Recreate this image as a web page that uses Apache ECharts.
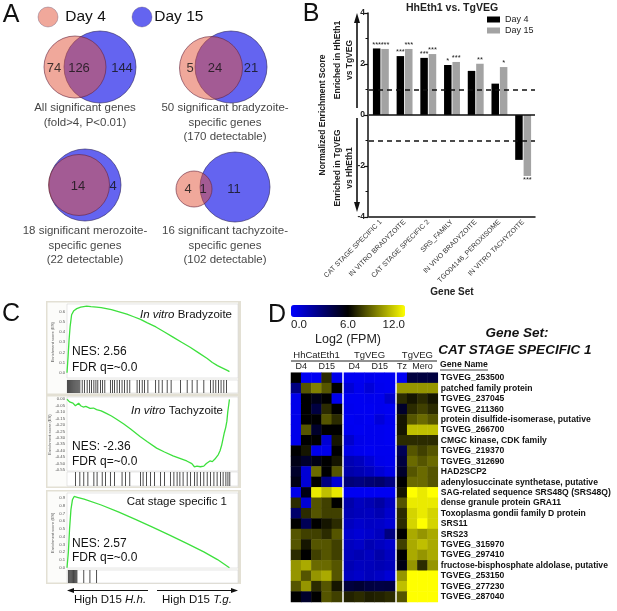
<!DOCTYPE html>
<html>
<head>
<meta charset="utf-8">
<script src="https://cdn.jsdelivr.net/npm/echarts@6.0.0/dist/echarts.min.js"></script>
<style>
html, body { margin: 0; padding: 0; background: #fff; }
#chart { width: 617px; height: 611px; }
</style>
</head>
<body>
<div id="chart"></div>
<script>
const FONT = "'Liberation Sans', Arial, sans-serif";

// ---- Panel A: Venn diagrams (centre x, centre y, radius, in panel pixels) ----
const vennDay15 = [[100, 67, 36], [231, 67, 36], [85, 185, 36], [235, 187, 35]];
const vennDay4 = [[75, 67, 31], [211, 68, 31.5], [79, 185, 30.5], [194, 189, 18]];
const vennCounts = [[54, 68, '74'], [79, 68, '126'], [122, 68, '144'], [190, 68, '5'], [215, 68, '24'], [251, 68, '21'],
  [78, 186, '14'], [113, 186, '4'], [188, 189, '4'], [203, 189, '1'], [234, 189, '11']];
const vennCaptions = [[85, 101, 'All significant genes\n(fold>4, P<0.01)'],
  [225, 101, '50 significant bradyzoite-\nspecific genes\n(170 detectable)'],
  [85, 224, '18 significant merozoite-\nspecific genes\n(22 detectable)'],
  [225, 224, '16 significant tachyzoite-\nspecific genes\n(102 detectable)']];
const vennLegend = [[48, 17, 'Day 4'], [142, 17, 'Day 15']];

// ---- Panel B: NES bars ----
const geneSets = ['CAT STAGE SPECIFIC 1', 'IN VITRO BRADYZOITE', 'CAT STAGE SPECIFIC 2', 'SRS_FAMILY',
  'IN VIVO BRADYZOITE', 'TGO04146_PEROXISOME', 'IN VITRO TACHYZOITE'];
const nesDay4 = [2.61, 2.31, 2.24, 1.96, 1.73, 1.23, -1.76];
const nesDay15 = [2.59, 2.59, 2.39, 2.08, 2.01, 1.88, -2.39];
const starsDay4 = ['***', '***', '***', '*', '', '', ''];
const starsDay15 = ['***', '***', '***', '***', '**', '*', '***'];
const nesCutoffs = [1, -1];

// ---- Panel C: GSEA running enrichment scores (rank %, ES) and hits ----
const esBradyzoite = [[0, 0], [0.6, 0.15], [1.2, 0.32], [1.8, 0.45], [2.7, 0.57], [4, 0.61], [5.7, 0.63], [8, 0.645],
  [11.5, 0.655], [14, 0.65], [17.3, 0.645], [20, 0.64], [23, 0.63], [26, 0.62], [29, 0.605], [32, 0.59], [35, 0.575],
  [39, 0.55], [43, 0.525], [47, 0.49], [52, 0.45], [57, 0.40], [62, 0.35], [67, 0.30], [72, 0.25], [77, 0.195],
  [82, 0.14], [85, 0.10], [88, 0.07], [91, 0.045], [94, 0.02], [95, 0.01]];
const hitsBradyzoite = [0, 0.6, 1.2, 1.8, 2.4, 3.0, 3.6, 4.2, 4.8, 5.4, 6.0, 6.6, 7.2, 8.6, 9.9, 11.5, 12.9, 14.0,
  15.4, 16.6, 17.7, 19.3, 20.5, 21.8, 25.1, 26.3, 27.5, 29.0, 30.4, 31.9, 33.3, 34.9, 36.4, 40.7, 42.1, 43.7, 45.0,
  47.0, 51.5, 53.4, 55.4, 58.3, 60.6, 66.1, 70.0, 72.9, 75.8, 79.7, 83.6, 85.2, 86.7, 88.3, 89.8, 91.4, 93.0];
const esTachyzoite = [[0, 0], [1.5, -0.02], [2.5, -0.01], [3.5, -0.03], [4.9, -0.05], [5.8, -0.035], [6.8, -0.03],
  [8, -0.05], [9.5, -0.06], [11, -0.055], [13.5, -0.07], [15.5, -0.068], [17.3, -0.08], [20, -0.09], [23, -0.11],
  [26, -0.13], [29, -0.155], [33, -0.19], [37, -0.23], [42.7, -0.29], [47, -0.33], [52.4, -0.38], [57, -0.41],
  [62, -0.44], [66, -0.46], [70, -0.48], [73, -0.50], [74.5, -0.525], [76, -0.52], [78, -0.525], [80, -0.52],
  [81.5, -0.50], [83.6, -0.48], [85, -0.485], [86.5, -0.465], [87.5, -0.46], [88.5, -0.43], [89.5, -0.40],
  [90.4, -0.36], [91.2, -0.31], [92, -0.26], [92.8, -0.22], [93.5, -0.17], [94, -0.10], [94.5, -0.05], [95, 0]];
const hitsTachyzoite = [4.7, 7.2, 9.5, 11.9, 15.4, 17.3, 20.3, 22.2, 25.1, 27.5, 31.9, 33.9, 36.4, 42.7, 44.2, 46.2,
  48.5, 50.9, 54.4, 56.7, 60.2, 62.2, 64.1, 65.7, 67.6, 70.0, 71.9, 74.3, 75.8, 77.8, 79.7, 81.7, 83.6, 85.6, 87.5,
  89.5, 91.0, 92.6, 93.8, 94.9];
const esCatStage = [[0, 0], [0.8, 0.2], [1.5, 0.5], [2.3, 0.75], [3.2, 0.88], [4.2, 0.92], [6, 0.91], [10, 0.885],
  [20, 0.81], [30, 0.72], [40, 0.625], [50, 0.525], [60, 0.42], [70, 0.315], [80, 0.205], [88, 0.105], [95, 0]];
const hitsCatStage = [0.5, 1.0, 1.5, 2.0, 2.5, 3.0, 3.5, 4.0, 4.5, 5.0, 5.5, 9.5, 13.1, 17.0];

// ---- Panel D: heatmap, log2 FPM ----
const geneNames = ['TGVEG_253500', 'patched family protein', 'TGVEG_237045', 'TGVEG_211360',
  'protein disulfide-isomerase, putative', 'TGVEG_266700', 'CMGC kinase, CDK family', 'TGVEG_219370',
  'TGVEG_312690', 'HAD2SCP2', 'adenylosuccinate synthetase, putative', 'SAG-related sequence SRS48Q (SRS48Q)',
  'dense granule protein GRA11', 'Toxoplasma gondii family D protein', 'SRS11', 'SRS23', 'TGVEG_315970',
  'TGVEG_297410', 'fructose-bisphosphate aldolase, putative', 'TGVEG_253150', 'TGVEG_277230', 'TGVEG_287040'];
// HhCatEth1: D4 x2, D15 x3
const fpmHhCatEth1 = [
  [6, 0.3, 0.3, 7, 0.5], [3, 8, 9, 8, 6], [0.5, 6, 5.5, 6, 0.5], [0.5, 6, 4.5, 7, 6], [0.5, 6, 6, 8, 7],
  [0.5, 8, 5, 6, 6], [0.5, 6, 6, 1, 6.5], [6, 6.5, 0.5, 0.5, 6], [5.5, 5, 5.5, 6, 6.5], [5, 1, 8.5, 6, 8],
  [5.5, 1, 6, 3, 1], [0.5, 5.5, 11.5, 10.5, 11.5], [7, 1, 8, 7.5, 6], [3.5, 7, 8, 7.5, 7.5], [6, 4, 6, 6.5, 7],
  [8, 7.5, 7.5, 7, 8], [8, 6.5, 8, 8, 7.5], [7, 6, 7.5, 8, 7.5], [9.5, 10, 8.5, 8.5, 8], [9.5, 8, 9.5, 10, 8],
  [8, 9.5, 7, 8, 6.5], [6, 5, 6, 8, 7.5]];
// TgVEG infection: D4 x2, D15 x3
const fpmTgVegInf = [
  [0.3, 0.3, 0.4, 0.3, 0.3], [1.0, 0.4, 0.9, 0.4, 0.3], [0.3, 0.3, 0.4, 0.4, 1.2], [0.4, 0.3, 0.3, 0.4, 0.3],
  [0.3, 0.4, 0.3, 0.9, 0.4], [0.4, 0.3, 0.4, 0.4, 0.3], [1.2, 0.5, 0.4, 0.4, 0.3], [0.6, 0.4, 0.3, 0.4, 0.4],
  [1.8, 1.5, 1.0, 0.5, 0.4], [2.0, 1.8, 1.5, 1.0, 0.6], [3.2, 3.0, 3.3, 3.5, 3.0], [0.3, 0.3, 0.3, 0.3, 0.3],
  [2.0, 1.5, 1.8, 2.2, 1.5], [1.8, 1.6, 1.5, 1.8, 1.2], [1.5, 1.2, 1.4, 1.3, 1.0], [1.2, 1.0, 1.2, 1.5, 3.0],
  [1.5, 1.3, 1.8, 1.5, 1.2], [1.6, 1.8, 1.5, 2.0, 1.5], [1.8, 1.5, 1.6, 1.8, 1.6], [1.5, 1.3, 1.6, 1.4, 1.0],
  [4.6, 4.8, 4.5, 4.4, 4.5], [6.8, 7.0, 6.7, 6.8, 7.0]];
// TgVEG stages: Tz, Mero x3
const fpmTgVegStage = [
  [0.3, 4.5, 4.5, 4.5], [9.5, 9.5, 9.5, 9.5], [7, 6.5, 7, 6.5], [5, 7, 7.5, 7], [6.5, 8, 8.5, 8],
  [6.5, 10.5, 10.5, 10.5], [7, 7, 7, 7], [4, 8, 7.5, 8], [4.5, 8.5, 8, 8.5], [5, 8, 8.5, 8], [6, 8.5, 8.5, 8],
  [6.5, 12, 11.5, 12], [8, 11.5, 11.5, 11.5], [7, 11, 11.5, 11], [7, 11, 12, 11], [6, 10, 9.5, 10],
  [7.5, 10, 10.5, 10], [6, 10, 9.5, 10], [5.5, 9.5, 7, 9.5], [9.5, 12, 12, 12], [10.5, 12, 12, 12], [8, 12, 12, 12]];
const heatBlocks = [fpmHhCatEth1, fpmTgVegInf, fpmTgVegStage];
const heatGroups = ['HhCatEth1', 'TgVEG', 'TgVEG'];
// label, block, first col, last col
const heatSubLabels = [['D4', 0, 0, 1], ['D15', 0, 2, 4], ['D4', 1, 0, 1], ['D15', 1, 2, 4], ['Tz', 2, 0, 0], ['Mero', 2, 1, 3]];
const colorbarTicks = [0, 6, 12];

// ---------------- layout ----------------
const heatTop = 372.7, heatH = 229.3, cellW = 10.2;
const blockLeft = [291, 344, 397];

function txt(x, y, text, o) {
  o = o || {};
  const st = {
    text: text, fill: o.color || '#111', fontFamily: FONT, fontSize: o.size || 11,
    fontWeight: o.weight || 'normal', fontStyle: o.style || 'normal',
    textAlign: o.align || 'center', align: o.align || 'center',
    textVerticalAlign: 'middle', verticalAlign: 'middle'
  };
  if (o.rich) st.rich = o.rich;
  return { type: 'text', x: x, y: y, rotation: o.rotation || 0, silent: true, style: st };
}
function rect(x, y, w, h, fill, stroke, lw) {
  return { type: 'rect', silent: true, shape: { x: x, y: y, width: w, height: h },
    style: { fill: fill, stroke: stroke || null, lineWidth: lw || 0 } };
}
function line(x1, y1, x2, y2, lw, color, dash) {
  return { type: 'line', silent: true, shape: { x1: x1, y1: y1, x2: x2, y2: y2 },
    style: { stroke: color || '#111', lineWidth: lw, lineDash: dash || null } };
}
function tri(points, color) {
  return { type: 'polygon', silent: true, shape: { points: points }, style: { fill: color || '#111' } };
}
function italic(size) {
  return { i: { fontStyle: 'italic', fontSize: size, fontFamily: FONT, fill: '#111' } };
}

const grids = [], xAxes = [], yAxes = [], series = [];

// Panel A grid (pixel units)
grids.push({ left: 0, top: 0, width: 300, height: 300 });
xAxes.push({ type: 'value', gridIndex: 0, min: 0, max: 300, show: false });
yAxes.push({ type: 'value', gridIndex: 0, min: 0, max: 300, inverse: true, show: false });
const circleSize = v => v[2] * 2;
series.push({ type: 'scatter', name: 'vennDay15', xAxisIndex: 0, yAxisIndex: 0, silent: true, data: vennDay15,
  symbolSize: circleSize, itemStyle: { color: '#6464f0', opacity: 1, borderColor: 'rgba(40,30,90,0.75)', borderWidth: 0.8 } });
series.push({ type: 'scatter', name: 'vennDay4', xAxisIndex: 0, yAxisIndex: 0, silent: true, data: vennDay4,
  symbolSize: circleSize, itemStyle: { color: 'rgba(225,81,55,0.5)', opacity: 1, borderColor: 'rgba(100,35,60,0.75)', borderWidth: 0.8 } });
series.push({ type: 'scatter', name: 'vennCounts', xAxisIndex: 0, yAxisIndex: 0, silent: true, symbolSize: 0,
  data: vennCounts.map(d => ({ value: [d[0], d[1]], name: d[2] })),
  label: { show: true, position: 'inside', formatter: '{b}', fontFamily: FONT, fontSize: 13, color: '#111' } });
series.push({ type: 'scatter', name: 'vennCaptions', xAxisIndex: 0, yAxisIndex: 0, silent: true, symbolSize: 0,
  data: vennCaptions.map(d => ({ value: [d[0], d[1]], name: d[2] })),
  label: { show: true, position: 'bottom', distance: 0, formatter: '{b}', fontFamily: FONT, fontSize: 11.5,
    lineHeight: 14.5, color: '#111', align: 'center' } });
series.push({ type: 'scatter', name: 'vennLegend', xAxisIndex: 0, yAxisIndex: 0, silent: true, symbolSize: 20,
  data: vennLegend.map((d, i) => ({ value: [d[0], d[1]], name: d[2],
    itemStyle: { color: i === 0 ? 'rgba(225,81,55,0.5)' : '#6464f0' }, label: { distance: i === 0 ? 7 : 2 } })),
  itemStyle: { opacity: 1, borderColor: 'rgba(60,40,80,0.5)', borderWidth: 0.6 },
  label: { show: true, position: 'right', formatter: '{b}', fontFamily: FONT, fontSize: 15.5, color: '#111' } });

// Panel B grid
grids.push({ left: 369, top: 13, width: 166, height: 204 });
xAxes.push({ type: 'category', gridIndex: 1, data: geneSets, position: 'bottom',
  axisLine: { onZero: false, lineStyle: { color: '#111', width: 1.5 } },
  axisTick: { alignWithLabel: true, length: 4, lineStyle: { color: '#111', width: 1.2 } },
  axisLabel: { rotate: 45, interval: 0, fontSize: 7, color: '#333', fontFamily: FONT, margin: 4 },
  name: 'Gene Set', nameLocation: 'middle', nameGap: 70,
  nameTextStyle: { fontFamily: FONT, fontSize: 10, fontWeight: 'bold', color: '#222' } });
yAxes.push({ type: 'value', gridIndex: 1, min: -4, max: 4, interval: 2, offset: 1,
  axisLine: { show: true, lineStyle: { color: '#111', width: 1.5 } },
  axisTick: { show: true, length: 4, lineStyle: { color: '#111', width: 1.2 } },
  minorTick: { show: true, splitNumber: 2, length: 2.5, lineStyle: { color: '#111' } },
  splitLine: { show: false },
  axisLabel: { fontSize: 8.5, fontWeight: 'bold', color: '#222', fontFamily: FONT, margin: 3 } });
function starData(vals, stars) {
  return vals.map((v, i) => ({ value: v, label: { show: !!stars[i], formatter: stars[i], position: v < 0 ? 'bottom' : 'top' } }));
}
const starLabel = { fontSize: 7.5, color: '#222', fontFamily: FONT, distance: 0 };
series.push({ type: 'bar', name: 'Day 4', xAxisIndex: 1, yAxisIndex: 1, barWidth: 7.5, barGap: '12%',
  data: starData(nesDay4, starsDay4), itemStyle: { color: '#000' }, label: starLabel,
  markLine: { silent: true, symbol: 'none', label: { show: false }, animation: false,
    data: [{ yAxis: 0, lineStyle: { color: '#111', width: 1.5, type: 'solid' } }].concat(
      nesCutoffs.map(c => ({ yAxis: c, lineStyle: { color: '#111', width: 1.6, type: [5, 4] } }))) } });
series.push({ type: 'bar', name: 'Day 15', xAxisIndex: 1, yAxisIndex: 1, barWidth: 7.5, barGap: '12%',
  data: starData(nesDay15, starsDay15), itemStyle: { color: '#a3a3a3' }, label: starLabel });

// Panel C grids: ES plots + barcodes
const gseaPlots = [
  { es: esBradyzoite, hits: hitsBradyzoite, zeroY: 372.7, pxPerUnit: 101.7, min: -0.1, max: 0.7, step: 0.1, dec: 1, bcTop: 380, bcH: 13 },
  { es: esTachyzoite, hits: hitsTachyzoite, zeroY: 399.3, pxPerUnit: 128.5, min: -0.6, max: 0.05, step: 0.05, dec: 2, bcTop: 472, bcH: 14 },
  { es: esCatStage, hits: hitsCatStage, zeroY: 567.7, pxPerUnit: 77.4, min: -0.1, max: 1.0, step: 0.1, dec: 1, bcTop: 570, bcH: 13 }
];
gseaPlots.forEach((p, k) => {
  const gi = grids.length;
  const top = p.zeroY - p.max * p.pxPerUnit;
  grids.push({ left: 67, top: top, width: 171, height: (p.max - p.min) * p.pxPerUnit });
  xAxes.push({ type: 'value', gridIndex: gi, min: 0, max: 100, show: false });
  const lo = p.min + p.step / 2, hi = p.max - p.step / 2;
  yAxes.push({ type: 'value', gridIndex: gi, min: p.min, max: p.max, interval: p.step,
    axisLine: { show: false }, axisTick: { show: false }, splitLine: { show: false },
    axisLabel: { fontSize: 4.2, color: '#555', fontFamily: FONT, margin: 2,
      formatter: v => (v < lo || v > hi) ? '' : v.toFixed(p.dec) },
    name: 'Enrichment score (ES)', nameLocation: 'middle', nameGap: 12, nameRotate: 90,
    nameTextStyle: { fontSize: 4, color: '#555', fontFamily: FONT } });
  series.push({ type: 'line', name: 'es' + k, xAxisIndex: gi, yAxisIndex: gi, data: p.es, symbol: 'none', silent: true,
    lineStyle: { color: '#3de03d', width: 1.3 } });
  const bi = grids.length;
  grids.push({ left: 67, top: p.bcTop, width: 171, height: p.bcH });
  xAxes.push({ type: 'value', gridIndex: bi, min: 0, max: 100, show: false });
  yAxes.push({ type: 'value', gridIndex: bi, min: 0, max: 1, show: false });
  series.push({ type: 'scatter', name: 'hits' + k, xAxisIndex: bi, yAxisIndex: bi, silent: true,
    data: p.hits.map(h => [h + 0.3, 0.5]), symbol: 'rect', symbolSize: [0.9, p.bcH],
    itemStyle: { color: '#1a1a1a', opacity: 0.85 } });
});

// Panel D: colorbar axis
const cbIndex = grids.length;
grids.push({ left: 291, top: 317, width: 114, height: 1 });
xAxes.push({ type: 'value', gridIndex: cbIndex, min: colorbarTicks[0], max: colorbarTicks[colorbarTicks.length - 1],
  interval: colorbarTicks[1] - colorbarTicks[0],
  axisLine: { show: false }, axisTick: { show: false }, splitLine: { show: false },
  axisLabel: { fontSize: 11.5, color: '#222', fontFamily: FONT, margin: 1, formatter: v => v.toFixed(1),
    alignMinLabel: 'left', alignMaxLabel: 'right' },
  name: 'Log2 (FPM)', nameLocation: 'middle', nameGap: 15,
  nameTextStyle: { fontSize: 12.5, color: '#222', fontFamily: FONT } });
yAxes.push({ type: 'value', gridIndex: cbIndex, show: false });

// Panel D: heatmap blocks
const heatSeriesIdx = [];
heatBlocks.forEach((block, b) => {
  const gi = grids.length;
  const nCols = block[0].length;
  grids.push({ left: blockLeft[b], top: heatTop, width: nCols * cellW, height: heatH });
  xAxes.push({ type: 'category', gridIndex: gi, data: block[0].map((_, c) => String(c)), show: false });
  const last = b === heatBlocks.length - 1;
  yAxes.push({ type: 'category', gridIndex: gi, data: geneNames, inverse: true, show: last, position: 'right',
    axisLine: { show: false }, axisTick: { show: false }, splitLine: { show: false },
    axisLabel: { show: last, interval: 0, align: 'left', margin: 3, fontSize: 8.6, fontWeight: 'bold',
      color: '#111', fontFamily: FONT } });
  const data = [];
  block.forEach((row, r) => row.forEach((v, c) => data.push([c, r, v])));
  heatSeriesIdx.push(series.length);
  series.push({ type: 'heatmap', name: 'heat' + b, xAxisIndex: gi, yAxisIndex: gi, data: data, silent: true,
    itemStyle: { borderWidth: 0 }, emphasis: { disabled: true } });
});

// ---------------- decorations and free text ----------------
const graphics = [];
// panel letters
graphics.push(txt(11, 15, 'A', { size: 25 }), txt(311, 14, 'B', { size: 25 }),
  txt(11, 314, 'C', { size: 25 }), txt(277, 315, 'D', { size: 25 }));
// panel B
graphics.push(txt(452, 8, 'HhEth1 vs. TgVEG', { size: 10.5, weight: 'bold', color: '#222' }));
graphics.push(txt(323, 115, 'Normalized Enrichment Score', { size: 8.5, weight: 'bold', color: '#222', rotation: Math.PI / 2 }));
graphics.push(txt(337.5, 60, 'Enriched in HhEth1', { size: 8.5, weight: 'bold', color: '#222', rotation: Math.PI / 2 }));
graphics.push(txt(349.5, 60, 'vs TgVEG', { size: 8.5, weight: 'bold', color: '#222', rotation: Math.PI / 2 }));
graphics.push(txt(337.5, 168, 'Enriched in TgVEG', { size: 8.5, weight: 'bold', color: '#222', rotation: Math.PI / 2 }));
graphics.push(txt(349.5, 168, 'vs HhEth1', { size: 8.5, weight: 'bold', color: '#222', rotation: Math.PI / 2 }));
graphics.push(line(357, 108, 357, 20, 1.6), tri([[357, 13], [354, 23], [360, 23]]));
graphics.push(line(357, 118, 357, 205, 1.6), tri([[357, 212], [354, 202], [360, 202]]));
// panel C frames
[[301, 94], [395, 93], [490, 94]].forEach(f => {
  graphics.push(rect(46, f[0], 195, f[1], '#e3e0d4'));
  graphics.push(rect(47.5, f[0] + 1.5, 190.5, f[1] - 3, '#fcfcfa'));
});
[[304, 74], [380, 13], [397, 74], [472, 14], [493, 75], [570, 13]].forEach(r => {
  graphics.push(rect(67, r[0], 171, r[1], '#ffffff', '#d6d6d6', 0.6));
});
const nesTexts = [
  { title: '{i|In vitro} Bradyzoite', tx: 232, ty: 315, nes: 'NES: 2.56', ny: 352, fy: 368 },
  { title: '{i|In vitro} Tachyzoite', tx: 223, ty: 410.5, nes: 'NES: -2.36', ny: 447, fy: 462 },
  { title: 'Cat stage specific 1', tx: 227, ty: 502, nes: 'NES: 2.57', ny: 544, fy: 558 }
];
nesTexts.forEach(t => {
  graphics.push(txt(t.tx, t.ty, t.title, { size: 11.5, align: 'right', rich: italic(11.5) }));
  graphics.push(txt(72, t.ny, t.nes, { size: 12, align: 'left' }));
  graphics.push(txt(72, t.fy, 'FDR q=~0.0', { size: 12, align: 'left' }));
});
graphics.push(line(72, 590.5, 148, 590.5, 1.2), tri([[67, 590.5], [74, 588], [74, 593]]));
graphics.push(line(157, 590.5, 232, 590.5, 1.2), tri([[238, 590.5], [231, 588], [231, 593]]));
graphics.push(txt(110, 600, 'High D15 {i|H.h.}', { size: 11.5, rich: italic(11.5) }));
graphics.push(txt(197, 600, 'High D15 {i|T.g.}', { size: 11.5, rich: italic(11.5) }));
// panel D headers
heatGroups.forEach((g, b) => {
  const w = heatBlocks[b][0].length * cellW;
  graphics.push(txt(blockLeft[b] + w / 2, 355, g, { size: 9.5, color: '#222' }));
});
graphics.push(line(291, 361, 437, 361, 1, '#222'));
heatSubLabels.forEach(s => {
  const x = blockLeft[s[1]] + (s[2] + s[3] + 1) / 2 * cellW;
  graphics.push(txt(x, 367, s[0], { size: 9, color: '#222' }));
});
graphics.push(txt(440, 365, 'Gene Name', { size: 8.7, weight: 'bold', align: 'left' }));
graphics.push(line(440, 370, 488, 370, 0.8, '#111'));
graphics.push(txt(517, 333, 'Gene Set:', { size: 13.5, weight: 'bold', style: 'italic' }));
graphics.push(txt(515, 350, 'CAT STAGE SPECIFIC 1', { size: 13.5, weight: 'bold', style: 'italic' }));

const chart = echarts.init(document.getElementById('chart'));
chart.setOption({
  animation: false,
  backgroundColor: '#fff',
  textStyle: { fontFamily: FONT },
  grid: grids,
  xAxis: xAxes,
  yAxis: yAxes,
  legend: { data: ['Day 4', 'Day 15'], left: 487, top: 15, padding: 0, orient: 'vertical', icon: 'rect', itemWidth: 13, itemHeight: 6,
    itemGap: 2, selectedMode: false, textStyle: { fontFamily: FONT, fontSize: 9, color: '#222' } },
  visualMap: { type: 'continuous', min: 0, max: 12, seriesIndex: heatSeriesIdx, orient: 'horizontal',
    left: 291, top: 305, itemWidth: 12, itemHeight: 114, calculable: false, padding: 0, hoverLink: false,
    inRange: { color: ['#0000ff', '#000000', '#ffff00'] } },
  graphic: { elements: graphics },
  series: series
});
</script>
</body>
</html>
